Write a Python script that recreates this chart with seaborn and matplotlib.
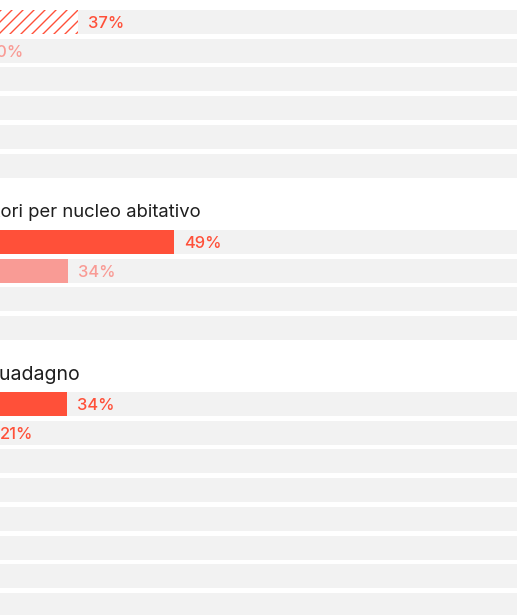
import numpy as np
import pandas as pd
import seaborn as sns
import matplotlib.pyplot as plt

# ---------------- data ----------------
g1_rows = ["r1", "r2", "r3", "r4", "r5", "r6"]
g1_values = [37, 20]
g1_kinds = ["hatched", "light"]

g2_title = "Numero di lavoratori per nucleo abitativo"
g2_rows = ["r1", "r2", "r3", "r4"]
g2_values = [49, 34]
g2_kinds = ["dark", "light"]

g3_title = "Principale fonte di guadagno"
g3_rows = ["r1", "r2", "r3", "r4", "r5", "r6", "r7", "r8"]
g3_values = [34, 21]
g3_kinds = ["dark", "dark"]

# ---------------- style ----------------
DPI = 132
W, H = 517, 615
RED = "#FF5039"
PINK = "#F99B95"
GREY = "#F2F2F2"
TXT = "#1E1E1E"
colors = {"dark": RED, "light": PINK, "hatched": "white"}
label_colors = {"dark": RED, "light": PINK, "hatched": RED}


def pt(p):
    return p * 72 / DPI


sns.set_theme(style="white")
plt.rcParams["font.family"] = ["Inter", "DejaVu Sans"]
plt.rcParams["hatch.linewidth"] = 0.75
plt.rcParams["hatch.color"] = RED

fig = plt.figure(figsize=(W / DPI, H / DPI), dpi=DPI)
fig.patch.set_facecolor("white")

PITCH = 28.7
BAR_H = 24 / PITCH

groups = [
    # rows, values, kinds, first-row-centre(px), xlim
    (g1_rows, g1_values, g1_kinds, 22.0, (23.9, 111.2)),
    (g2_rows, g2_values, g2_kinds, 242.0, (24.38, 97.5)),
    (g3_rows, g3_values, g3_kinds, 404.0, (22.7, 110.0)),
]

for rows, vals, kinds, c0, (xl, xr) in groups:
    n = len(rows)
    top = c0 - PITCH / 2
    hgt = n * PITCH
    ax = fig.add_axes([0, 1 - (top + hgt) / H, 1, hgt / H])
    # background tracks
    sns.barplot(x=[xr + 20] * n, y=rows, order=rows, color=GREY,
                saturation=1, width=BAR_H, orient="h", ax=ax, linewidth=0)
    df = pd.DataFrame({"row": rows[:len(vals)], "val": vals, "kind": kinds})
    for kind, sub in df.groupby("kind", sort=False):
        kw = dict(linewidth=0)
        if kind == "hatched":
            kw.update(hatch="////", edgecolor=RED)
        sns.barplot(data=sub, x="val", y="row", order=rows,
                    color=colors[kind], saturation=1, width=BAR_H,
                    orient="h", ax=ax, **kw)
    for i, (v, k) in enumerate(zip(vals, kinds)):
        ax.annotate(f"{v}%", xy=(v, i), xytext=(pt(10), 0),
                    textcoords="offset points", ha="left",
                    va="center_baseline", color=label_colors[k],
                    fontsize=pt(16.5), fontweight="medium",
                    annotation_clip=False)
    ax.set_xlim(xl, xr)
    ax.set_ylim(n - 0.5, -0.5)
    ax.axis("off")

fig.text(201 / W, 1 - 217 / H, g2_title, ha="right", va="baseline",
         fontsize=pt(18.5), color=TXT)
fig.text(80 / W, 1 - 380 / H, g3_title, ha="right", va="baseline",
         fontsize=pt(19.5), color=TXT)

fig.savefig("out.png", dpi=DPI, facecolor="white")
